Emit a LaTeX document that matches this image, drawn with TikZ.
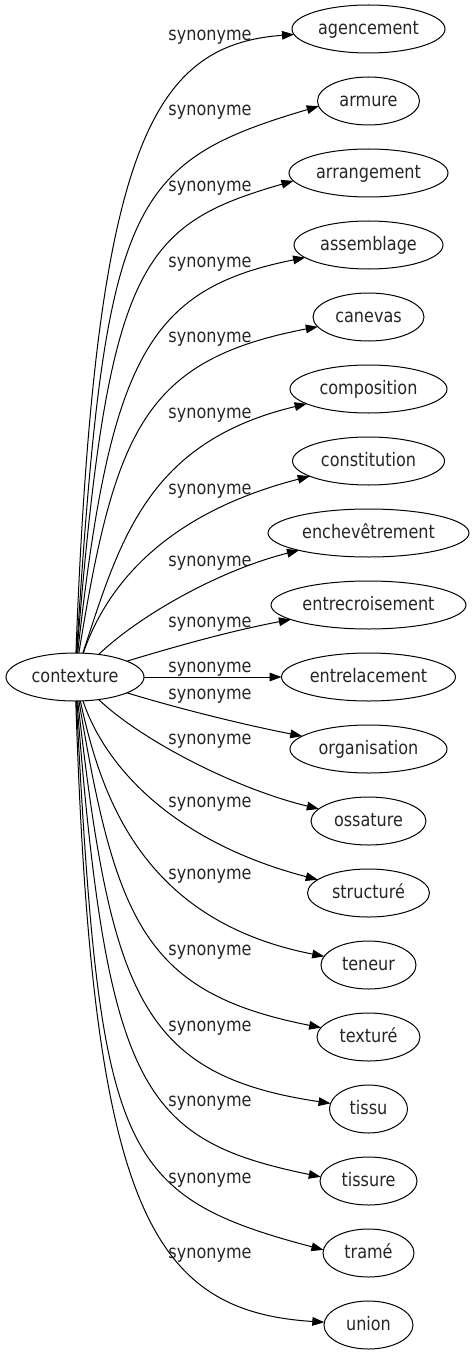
\documentclass[tikz,border=0pt]{standalone}
\usepackage{fontspec}
\setmainfont{DejaVu Sans}[FakeStretch=0.86]
\usetikzlibrary{shapes.geometric,arrows.meta}
\begin{document}
\begin{tikzpicture}[x=0.75pt,y=-0.75pt,
  every node/.style={font=\fontsize{14}{17}\selectfont, text=black!85},
  ell/.style={draw, ellipse, line width=0.75pt, inner sep=0pt, outer sep=0pt,
    minimum height=36pt, text height=11pt, text depth=3pt},
  lbl/.style={anchor=base, inner sep=0pt},
  syn/.style={draw, line width=0.75pt, -{Triangle[length=9pt,width=6.5pt]}}]
\useasboundingbox[fill=white] (0,0) rectangle (475,1355);
% nodes
\node[ell,minimum width=103.5pt] (c) at (75,677) {contexture};
\node[ell,minimum width=114.75pt] (n1) at (368.5,29) {agencement};
\node[ell,minimum width=76.5pt] (n2) at (368.5,101) {armure};
\node[ell,minimum width=119.25pt] (n3) at (368.5,173) {arrangement};
\node[ell,minimum width=111.75pt] (n4) at (368.5,245) {assemblage};
\node[ell,minimum width=83.25pt] (n5) at (368.5,317) {canevas};
\node[ell,minimum width=117.75pt] (n6) at (368.5,389) {composition};
\node[ell,minimum width=114pt] (n7) at (368.5,461) {constitution};
\node[ell,minimum width=150.75pt] (n8) at (368.5,533) {enchevêtrement};
\node[ell,minimum width=146.25pt] (n9) at (368.5,605) {entrecroisement};
\node[ell,minimum width=130.5pt] (n10) at (368.5,677) {entrelacement};
\node[ell,minimum width=117.75pt] (n11) at (368.5,749) {organisation};
\node[ell,minimum width=86.25pt] (n12) at (368.5,821) {ossature};
\node[ell,minimum width=91.5pt] (n13) at (368.5,893) {structuré};
\node[ell,minimum width=71.25pt] (n14) at (368.5,965) {teneur};
\node[ell,minimum width=77.25pt] (n15) at (368.5,1037) {texturé};
\node[ell,minimum width=58.5pt] (n16) at (368.5,1109) {tissu};
\node[ell,minimum width=72.75pt] (n17) at (368.5,1181) {tissure};
\node[ell,minimum width=68.25pt] (n18) at (368.5,1253) {tramé};
\node[ell,minimum width=66.75pt] (n19) at (368.5,1325) {union};
% edges
\draw[syn] (c) .. controls (95,150) and (150,45) .. (n1);
\draw[syn] (c) .. controls (105,203) and (127,163) .. (n2.186);
\draw[syn] (c) .. controls (108,265) and (140,225) .. (n3.186);
\draw[syn] (c) .. controls (110,360) and (147,289) .. (n4);
\draw[syn] (c) .. controls (115,430) and (144,360) .. (n5);
\draw[syn] (c) .. controls (120,540) and (147,442) .. (n6);
\draw[syn] (c) .. controls (105,590) and (160,515) .. (n7);
\draw[syn] (c) .. controls (140,615) and (220,570) .. (n8);
\draw[syn] (c) .. controls (180,645) and (235,630) .. (n9);
\draw[syn] (c) -- (n10);
\draw[syn] (c) .. controls (180,709) and (245,725) .. (n11);
\draw[syn] (c) .. controls (140,739) and (233,788) .. (n12);
\draw[syn] (c) .. controls (104,764) and (170,841) .. (n13);
\draw[syn] (c) .. controls (100,790) and (138,920) .. (n14);
\draw[syn] (c) .. controls (116,924) and (146,993) .. (n15);
\draw[syn] (c) .. controls (111,994) and (140,1075) .. (n16);
\draw[syn] (c) .. controls (107,1089) and (142,1140) .. (n17.175);
\draw[syn] (c) .. controls (100,1151) and (116,1195) .. (n18.176);
\draw[syn] (c) .. controls (92,1204) and (148,1311) .. (n19);
% labels
\node[lbl] (l1) at (210,40.5) {synonyme};
\node[lbl] (l2) at (210,115.5) {synonyme};
\node[lbl] (l3) at (210,191.5) {synonyme};
\node[lbl] (l4) at (210,267.5) {synonyme};
\node[lbl] (l5) at (210,342.5) {synonyme};
\node[lbl] (l6) at (210,418.5) {synonyme};
\node[lbl] (l7) at (210,494.5) {synonyme};
\node[lbl] (l8) at (210,566.5) {synonyme};
\node[lbl] (l9) at (210,627.5) {synonyme};
\node[lbl] (l10) at (210,672.5) {synonyme};
\node[lbl] (l11) at (210,699.5) {synonyme};
\node[lbl] (l12) at (210,744.5) {synonyme};
\node[lbl] (l13) at (210,807.5) {synonyme};
\node[lbl] (l14) at (210,879.5) {synonyme};
\node[lbl] (l15) at (210,955.5) {synonyme};
\node[lbl] (l16) at (210,1031.5) {synonyme};
\node[lbl] (l17) at (210,1106.5) {synonyme};
\node[lbl] (l18) at (210,1183.5) {synonyme};
\node[lbl] (l19) at (210,1258.5) {synonyme};
\end{tikzpicture}
\end{document}
